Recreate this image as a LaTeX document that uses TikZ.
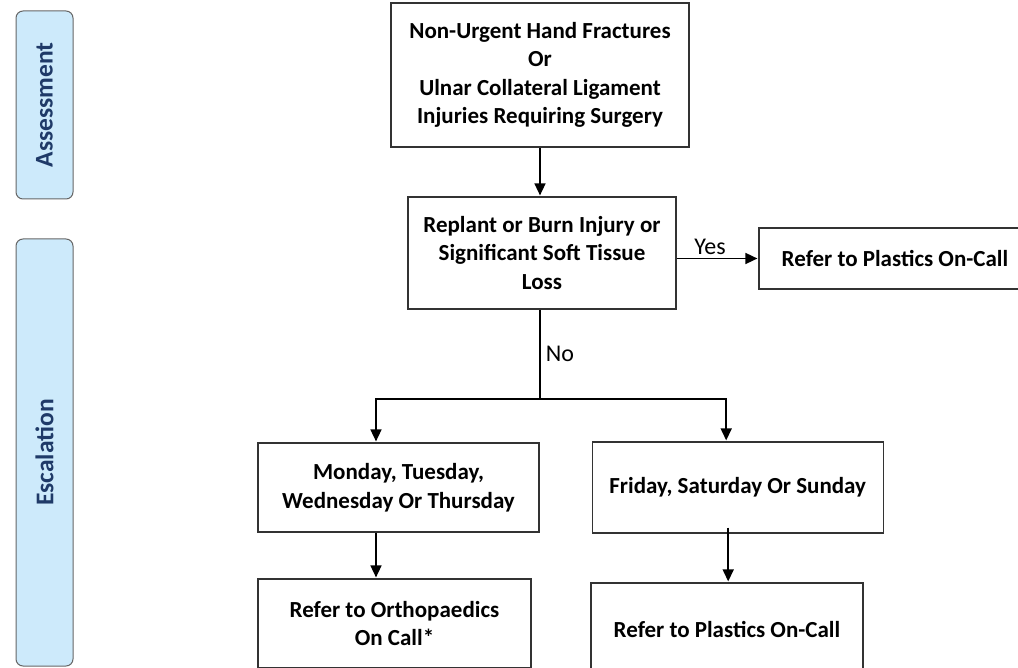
\documentclass[tikz,border=0pt]{standalone}
\usepackage{fontspec}
\setmainfont{Carlito}
\usetikzlibrary{positioning,arrows.meta,calc}
\definecolor{barblue}{HTML}{CDEAFB}
\definecolor{barnavy}{HTML}{1F3A68}
\tikzset{
	flowbox/.style={draw=black!80,line width=1.2pt,align=center,inner sep=0pt,font=\fontsize{23}{28.5}\selectfont\bfseries},
	phasebar/.style={draw=black!60,line width=1pt,fill=barblue,rounded corners=7pt,rotate=90,minimum height=57pt,text=barnavy,font=\fontsize{25.5}{28}\selectfont\bfseries},
	answer/.style={font=\fontsize{24}{26}\selectfont,inner sep=5pt}
}

\begin{document}
\begin{tikzpicture}[x=1pt,y=-1pt,>={Triangle[length=12pt,width=11pt]},shorten >=1pt,line width=1.6pt]
	\useasboundingbox (0,0) rectangle (1018,668);
	% phases on the left
	\node[phasebar,minimum width=188pt] (assess) at (44.5,105) {Assessment};
	\node[phasebar,minimum width=427pt] (escal) at (44.5,452.5) {Escalation};
	% flow
	\node[flowbox,minimum width=298pt,minimum height=144pt] (fracture) at (540,75) {Non-Urgent Hand Fractures\\Or\\Ulnar Collateral Ligament\\Injuries Requiring Surgery};
	\node[flowbox,minimum width=268pt,minimum height=112pt] (injury) at (542,253) {Replant or Burn Injury or\\Significant Soft Tissue\\Loss};
	\node[flowbox,minimum width=272pt,minimum height=61pt] (plastics) at (895,258.5) {Refer to Plastics On-Call};
	\node[flowbox,minimum width=281pt,minimum height=89pt] (weekday) at (398.5,487.5) {Monday, Tuesday,\\Wednesday Or Thursday};
	\node[flowbox,minimum width=291pt,minimum height=91pt,right=52pt of weekday] (weekend) {Friday, Saturday Or Sunday};
	\node[flowbox,minimum width=273pt,minimum height=89pt] (ortho) at (394.5,623.5) {Refer to Orthopaedics\\On Call*};
	\node[flowbox,minimum width=272pt,minimum height=93pt] (plasticsWE) at (727,629.5) {Refer to Plastics On-Call};
	\coordinate (split) at (540,399);
	\draw[->] (fracture.south) -- (fracture.south |- injury.north);
	\draw[->] (injury.east |- plastics.west) -- (plastics.west) node[answer,pos=0.41,above,inner sep=3pt] {Yes};
	\draw (split |- injury.south) -- (split) node[answer,midway,right] {No};
	\draw[->] (split) -| ([xshift=-22.5pt]weekday.north);
	\draw[->] (split) -| ([xshift=-11.5pt]weekend.north);
	\draw[->] ([xshift=-22.5pt]weekday.south) -- ([xshift=-22.5pt]weekday.south |- ortho.north);
	\draw[->] ([xshift=-9.5pt,yshift=6pt]weekend.south) -- ([xshift=-9.5pt]weekend.south |- plasticsWE.north);
\end{tikzpicture}
\end{document}
